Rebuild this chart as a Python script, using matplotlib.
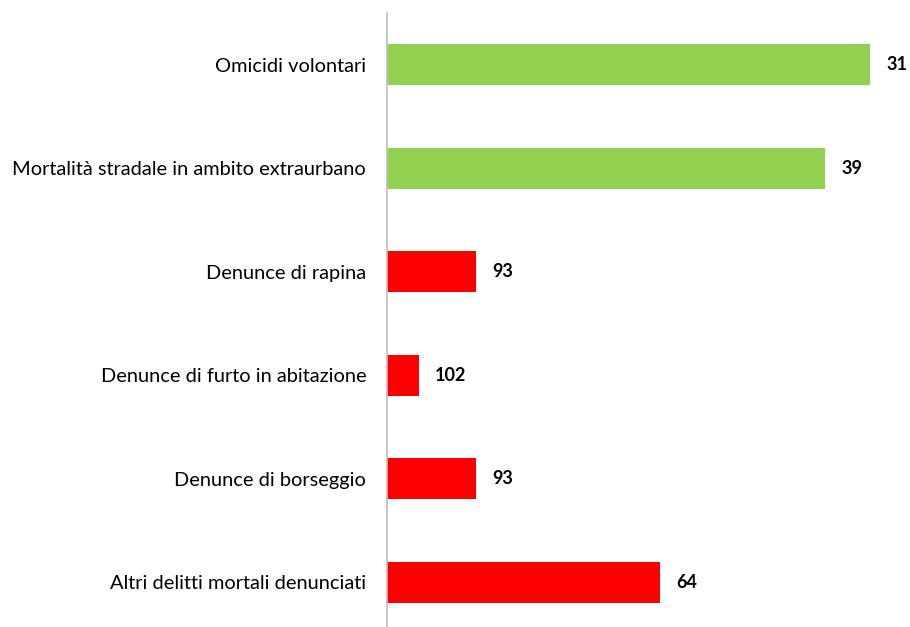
import matplotlib.pyplot as plt

# ===== data =====
categories = ['Omicidi volontari',
              'Mortalità stradale in ambito extraurbano',
              'Denunce di rapina',
              'Denunce di furto in abitazione',
              'Denunce di borseggio',
              'Altri delitti mortali denunciati']
bar_values = [76, 69, 14, 5, 14, 43]
rank_labels = ['31', '39', '93', '102', '93', '64']
colors = ['#92D050', '#92D050', '#FF0000', '#FF0000', '#FF0000', '#FF0000']

plt.rcParams['font.family'] = ['Lato', 'DejaVu Sans']

fig = plt.figure(figsize=(9.10, 6.27), dpi=100)
ax = fig.add_axes([387 / 910, -7 / 627, 521 / 910, 621 / 627])

ypos = list(range(len(categories)))
ax.barh(ypos, bar_values, height=0.4, color=colors)

for y, v, lab in zip(ypos, bar_values, rank_labels):
    ax.text(v + 2.6, y, lab, va='center', ha='left', fontsize=13, fontweight='bold')

ax.set_yticks(ypos)
ax.set_yticklabels(categories, fontsize=14.4)
ax.set_ylim(len(categories) - 0.5, -0.5)
ax.set_xlim(0, 82)
ax.set_xticks([])
ax.tick_params(axis='y', length=0, pad=15)

for s in ['top', 'right', 'bottom']:
    ax.spines[s].set_visible(False)
ax.spines['left'].set_color('#BFBFBF')
ax.spines['left'].set_linewidth(1.2)

fig.savefig('out.png', dpi=100)
